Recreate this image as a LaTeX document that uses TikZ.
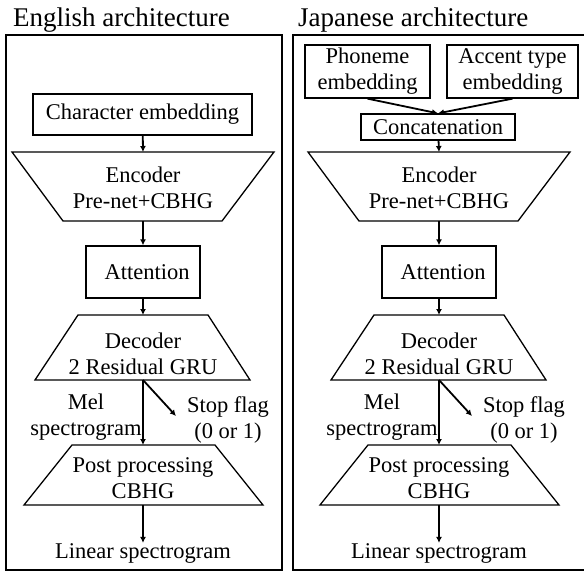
\documentclass[tikz,border=0pt]{standalone}
\usepackage{fontspec}
\setmainfont{Liberation Serif}
\usetikzlibrary{arrows.meta}

\tikzset{
  txt/.style={align=center, inner sep=0pt, font=\fontsize{22.5}{26}\selectfont},
  blk/.style={txt, draw, line width=1.3pt},
  arr/.style={line width=1.8pt, -{Latex[length=6pt,width=6pt]}},
  frame/.style={line width=2.4pt},
  trap/.style={line width=1.3pt, line join=miter}
}

\begin{document}
\begin{tikzpicture}[x=1pt,y=-1pt]
\useasboundingbox (0,0) rectangle (584,572);

%titles and frames
\node [anchor=base west, inner sep=0pt, font=\fontsize{27}{30}\selectfont] (titleE) at (13,27) {English architecture};
\node [anchor=base west, inner sep=0pt, font=\fontsize{27}{30}\selectfont] (titleJ) at (298,27) {Japanese architecture};
\draw [frame] (6,35) rectangle (282,570);
\draw [frame] (293,35) rectangle (586,570);

%English column
\node [blk, minimum width=219pt, minimum height=41pt] (charE) at (142.5,114.5) {Character embedding};

\draw [trap] (12,152) -- (274,152) -- (222,221) -- (63,221) -- cycle;
\coordinate (encE-n) at (143,152);
\coordinate (encE-s) at (143,221);
\node [txt] (encE) at (143,187.5) {Encoder\\Pre-net+CBHG};

\node [blk, minimum width=114pt, minimum height=52pt] (attE) at (143,272) {\hspace{8pt}Attention};

\draw [trap] (78,315) -- (208,315) -- (250,380) -- (35,380) -- cycle;
\coordinate (decE-n) at (143,315);
\coordinate (decE-s) at (143,380);
\node [txt] (decE) at (143,353.5) {Decoder\\2 Residual GRU};

\coordinate (stopE-tip) at (176,416);
\node [txt] (melE) at (86,417) {Mel\\spectrogram};
\node [txt] (stopE) at (228,420) {Stop flag\\(0 or 1)};

\draw [trap] (72,445) -- (215,445) -- (263,505) -- (24,505) -- cycle;
\coordinate (postE-n) at (143,445);
\coordinate (postE-s) at (143,505);
\node [txt] (postE) at (143,478.5) {Post processing\\CBHG};

\node [txt] (linE) at (143,553) {Linear spectrogram};

\draw [arr] (charE) -- (encE-n);
\draw [arr] (encE-s) -- (attE);
\draw [arr] (attE) -- (decE-n);
\draw [arr] (decE-s) -- (postE-n);
\draw [arr] (decE-s) -- (stopE-tip);
\draw [arr] (postE-s) -- (linE);

%Japanese column
\node [blk, minimum width=125pt, minimum height=53pt] (phonJ) at (367.5,71.5) {Phoneme\\embedding};
\node [blk, minimum width=131pt, minimum height=53pt] (accJ) at (512.5,71.5) {Accent type\\embedding};
\node [blk, minimum width=154pt, minimum height=26pt] (catJ) at (438,127) {Concatenation};

\draw [trap] (308,152) -- (570,152) -- (518,221) -- (359,221) -- cycle;
\coordinate (encJ-n) at (439,152);
\coordinate (encJ-s) at (439,221);
\node [txt] (encJ) at (439,187.5) {Encoder\\Pre-net+CBHG};

\node [blk, minimum width=114pt, minimum height=52pt] (attJ) at (439,272) {\hspace{8pt}Attention};

\draw [trap] (374,315) -- (504,315) -- (546,380) -- (331,380) -- cycle;
\coordinate (decJ-n) at (439,315);
\coordinate (decJ-s) at (439,380);
\node [txt] (decJ) at (439,353.5) {Decoder\\2 Residual GRU};

\coordinate (stopJ-tip) at (472,416);
\node [txt] (melJ) at (382,417) {Mel\\spectrogram};
\node [txt] (stopJ) at (524,420) {Stop flag\\(0 or 1)};

\draw [trap] (368,445) -- (511,445) -- (559,505) -- (320,505) -- cycle;
\coordinate (postJ-n) at (439,445);
\coordinate (postJ-s) at (439,505);
\node [txt] (postJ) at (439,478.5) {Post processing\\CBHG};

\node [txt] (linJ) at (439,553) {Linear spectrogram};

\draw [arr] (phonJ.south) -- (catJ.north);
\draw [arr] (accJ.south) -- (catJ.north);
\draw [arr] (catJ) -- (encJ-n);
\draw [arr] (encJ-s) -- (attJ);
\draw [arr] (attJ) -- (decJ-n);
\draw [arr] (decJ-s) -- (postJ-n);
\draw [arr] (decJ-s) -- (stopJ-tip);
\draw [arr] (postJ-s) -- (linJ);

\end{tikzpicture}
\end{document}
